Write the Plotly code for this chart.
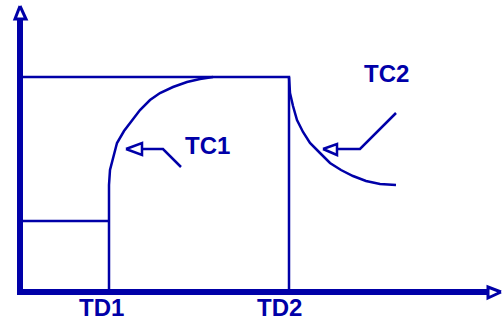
import plotly.graph_objects as go

BLUE = "#0000A8"

# Axes (schematic, pixel-like coordinates; y grows downward)
axis_x = [20, 20, 488]
axis_y = [20, 292, 292]
yarrow_x = [20, 15, 26, 20]
yarrow_y = [6, 19, 19, 6]
xarrow_x = [501, 488, 488, 501]
xarrow_y = [292, 287, 298, 292]

# Upper level line and TD2 step
top_x = [20, 289, 289]
top_y = [77, 77, 292]
# Lower level line
low_x = [20, 109]
low_y = [221, 221]

# TC1 curve (rise after TD1)
tc1_x = [109, 109, 110, 113, 117, 124, 132, 140, 150, 160, 173, 187, 200, 213]
tc1_y = [292, 185, 170, 157, 143, 131, 120, 110, 100, 93, 87, 82, 79, 77]

# TC2 curve (decay after TD2)
tc2_x = [289, 290, 293, 297, 303, 310, 320, 330, 341, 353, 366, 380, 396]
tc2_y = [77, 93, 106, 120, 132, 143, 153, 163, 170, 176, 181, 184, 185]

# Pointer arrows
p1_head_x = [126, 142, 142, 126]
p1_head_y = [149, 143, 155, 149]
p1_line_x = [142, 163, 181]
p1_line_y = [149, 149, 167]
p2_head_x = [323, 337, 337, 323]
p2_head_y = [149, 144, 155, 149]
p2_line_x = [337, 360, 396]
p2_line_y = [149, 149, 113]

labels = ["TD1", "TD2", "TC1", "TC2"]
label_x = [101, 279, 207, 386]
label_y = [307, 307, 145, 73]

fig = go.Figure()

def line(x, y, w):
    fig.add_trace(go.Scatter(x=x, y=y, mode="lines",
                             line=dict(color=BLUE, width=w),
                             hoverinfo="skip", showlegend=False))

def head(x, y, w):
    fig.add_trace(go.Scatter(x=x, y=y, mode="lines", fill="toself",
                             fillcolor="white",
                             line=dict(color=BLUE, width=w),
                             hoverinfo="skip", showlegend=False))

line(top_x, top_y, 2.5)
line(low_x, low_y, 2.5)
line(tc1_x, tc1_y, 2.5)
line(tc2_x, tc2_y, 2.5)
line(p1_line_x, p1_line_y, 2.5)
line(p2_line_x, p2_line_y, 2.5)
head(p1_head_x, p1_head_y, 2.5)
head(p2_head_x, p2_head_y, 2.5)
line(axis_x, axis_y, 6)
head(yarrow_x, yarrow_y, 3)
head(xarrow_x, xarrow_y, 3)

for t, x, y in zip(labels, label_x, label_y):
    fig.add_annotation(x=x, y=y, text="<b>%s</b>" % t, showarrow=False,
                       xanchor="center", yanchor="middle",
                       font=dict(family="Liberation Sans, Arial", size=24, color=BLUE))

fig.update_layout(
    width=502, height=322,
    margin=dict(l=0, r=0, t=0, b=0),
    paper_bgcolor="white", plot_bgcolor="white",
    xaxis=dict(range=[0, 502], visible=False, fixedrange=True),
    yaxis=dict(range=[322, 0], visible=False, fixedrange=True),
)

fig.write_html("out.html", config={"displayModeBar": False},
               post_script="document.body.style.margin='0';document.body.style.overflow='hidden';")
